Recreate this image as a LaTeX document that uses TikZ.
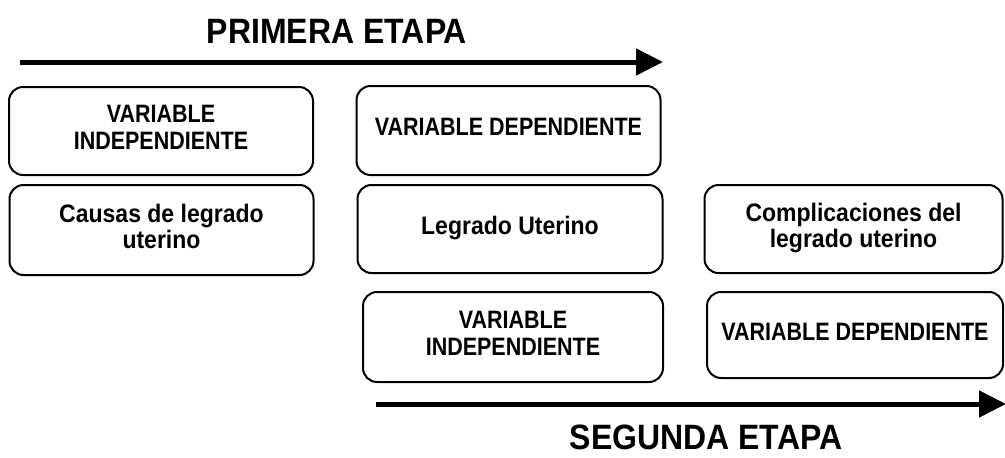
\documentclass[tikz,border=0pt]{standalone}
\usepackage{fontspec}
\usepackage{graphicx}
\setmainfont{Liberation Sans}
\usetikzlibrary{arrows.meta}
\newcommand\tallcaps[1]{\scalebox{1}[1.17]{\fontsize{21.5}{23}\selectfont\begin{tabular}{@{}c@{}}#1\end{tabular}}}
\newcommand\tallmixed[1]{\scalebox{1}[1.1]{\fontsize{23}{22}\selectfont\begin{tabular}{@{}c@{}}#1\end{tabular}}}
\newcommand\talltitle[1]{\scalebox{1}[1.1]{#1}}
\begin{document}
\begin{tikzpicture}[x=1pt,y=-1pt,
  box/.style={draw=black,line width=2pt,rounded corners=14pt,align=center,
    font=\bfseries,inner sep=0pt},
  stagearrow/.style={line width=5pt,-{Triangle[length=27pt,width=26pt]}},
  title/.style={font=\bfseries\fontsize{32}{36}\selectfont,inner sep=0pt}]
\useasboundingbox (0,0) rectangle (1005,458);
\node[title] (t1) at (337,31) {\talltitle{PRIMERA ETAPA}};
\node[title] (t2) at (706,437) {\talltitle{SEGUNDA ETAPA}};
\coordinate (a1s) at (20,62);
\coordinate (a1e) at (663,62);
\draw[stagearrow] (a1s) -- (a1e);
\coordinate (a2s) at (376,404);
\coordinate (a2e) at (1006,404);
\draw[stagearrow] (a2s) -- (a2e);
\node[box,minimum width=304pt,minimum height=88pt] (A) at (161,131) {\tallcaps{VARIABLE\\INDEPENDIENTE}};
\node[box,minimum width=304pt,minimum height=89pt] (B) at (508.5,130.5) {\tallcaps{VARIABLE DEPENDIENTE}};
\node[box,minimum width=304pt,minimum height=90pt] (C) at (161.5,230) {\tallmixed{Causas de legrado\\uterino}};
\node[box,minimum width=305pt,minimum height=88pt] (D) at (510,229) {\tallmixed{Legrado Uterino}};
\node[box,minimum width=298pt,minimum height=88pt] (E) at (853.5,229) {\tallmixed{Complicaciones del\\legrado uterino}};
\node[box,minimum width=300pt,minimum height=90pt] (F) at (513,337) {\tallcaps{VARIABLE\\INDEPENDIENTE}};
\node[box,minimum width=296pt,minimum height=86pt] (G) at (855,335) {\tallcaps{VARIABLE DEPENDIENTE}};
\end{tikzpicture}
\end{document}
